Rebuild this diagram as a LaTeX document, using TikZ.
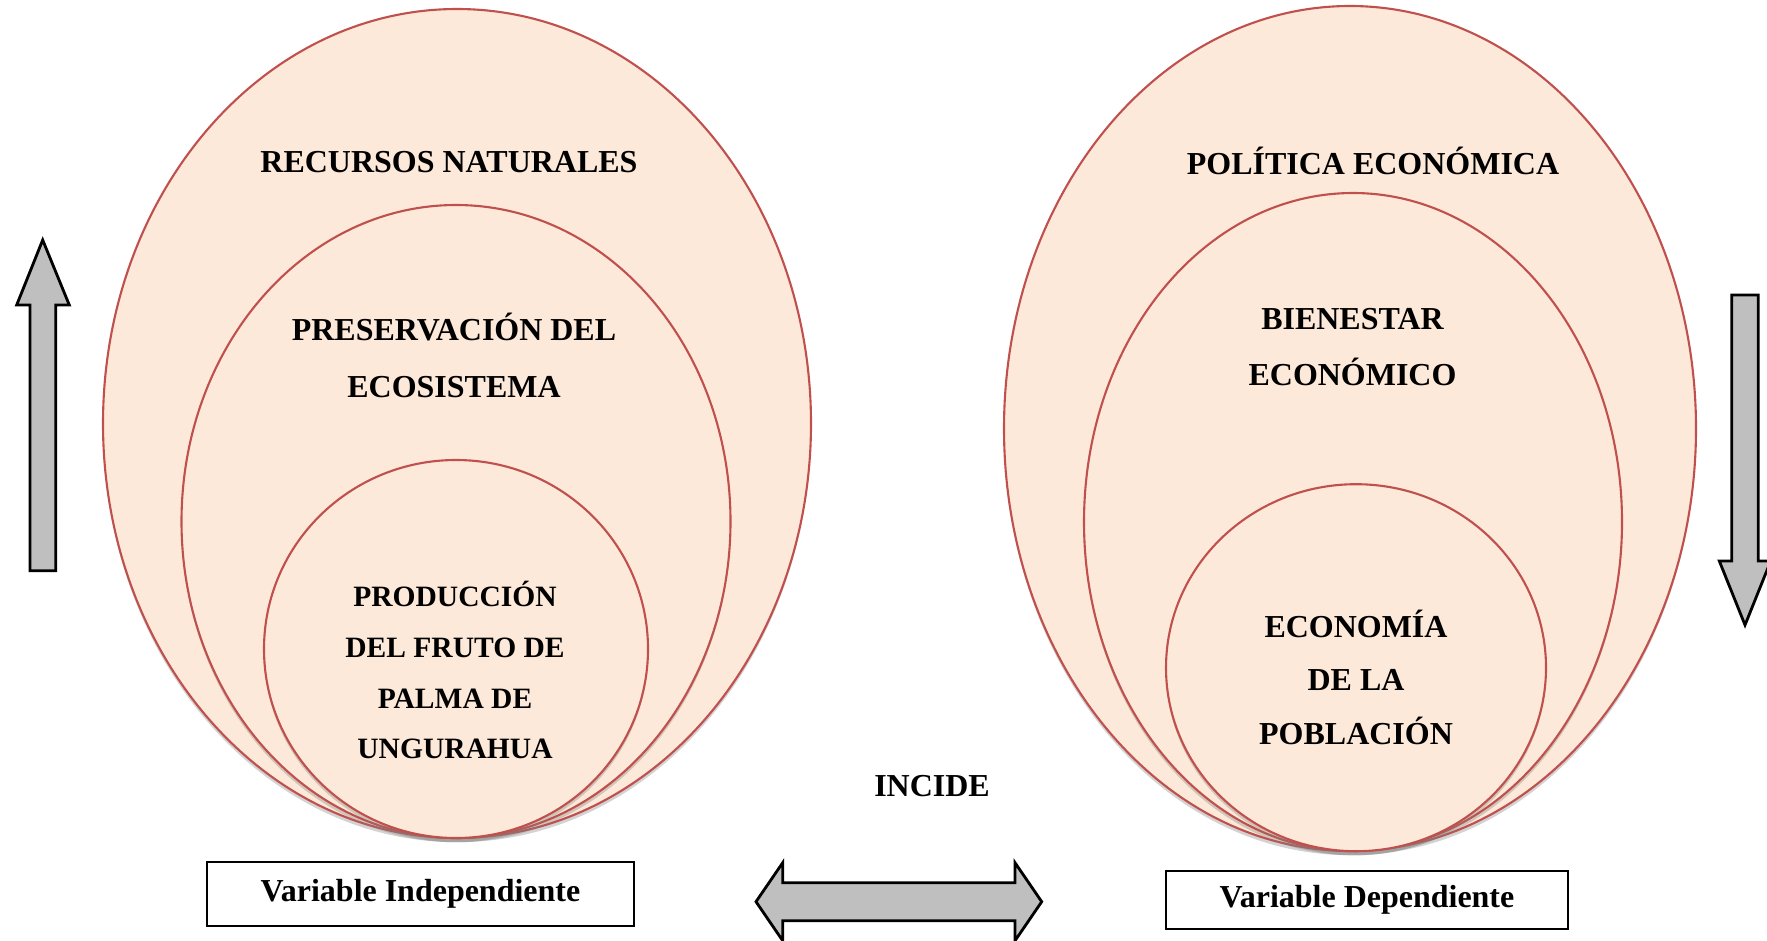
\documentclass[tikz,border=0pt]{standalone}
\usepackage{fontspec}
\setmainfont{Liberation Serif}
\usepackage{tikz}
\usetikzlibrary{shadows}
\definecolor{peach}{HTML}{FDE9D9}
\definecolor{rojo}{HTML}{C0504D}
\definecolor{gris}{HTML}{BFBFBF}
\def\largeur{17.67}
\def\hauteur{9.40}
\tikzset{
  bulle/.style={fill=peach, draw=rojo, line width=0.6pt,
    drop shadow={opacity=0.35, shadow xshift=0pt, shadow yshift=-1.2pt}},
  texte/.style={font=\fontsize{9.1}{15}\selectfont\bfseries, align=center, inner sep=0pt},
  cadre/.style={draw=black, line width=0.6pt, font=\fontsize{9.1}{11}\selectfont\bfseries, inner sep=0pt},
  fleche/.style={fill=gris, draw=black, line width=0.8pt, line join=miter}
}
\begin{document}
\begin{tikzpicture}[x=1cm, y=1cm]
\useasboundingbox (0,0) rectangle (\largeur,\hauteur);
%\draw[step=1cm, line width=0.1mm, black!30!white] (0,0) grid (\largeur,\hauteur);
    \coordinate (g1) at (4.57,5.165);
    \coordinate (g2) at (4.56,4.185);
    \coordinate (g3) at (4.56,2.91);
    \coordinate (d1) at (13.50,5.115);
    \coordinate (d2) at (13.53,4.18);
    \coordinate (d3) at (13.56,2.723);
    % variable independiente
    \path[bulle] (g1) ellipse (3.54 and 4.145);
    \path[bulle] (g2) ellipse (2.745 and 3.165);
    \path[bulle] (g3) ellipse (1.92 and 1.89);
    % variable dependiente
    \path[bulle] (d1) ellipse (3.46 and 4.225);
    \path[bulle] (d2) ellipse (2.69 and 3.29);
    \path[bulle] (d3) ellipse (1.90 and 1.835);
    \node[texte] (recursos) at (4.49,7.78) {RECURSOS NATURALES};
    \node[texte, font=\fontsize{9.1}{16.2}\selectfont\bfseries] (preserv) at (4.54,5.85) {PRESERVACIÓN DEL\\ECOSISTEMA};
    \node[texte, font=\fontsize{8.4}{14.5}\selectfont\bfseries] (produc) at (4.55,2.70) {PRODUCCIÓN\\DEL FRUTO DE\\PALMA DE\\UNGURAHUA};
    \node[texte] (politica) at (13.73,7.79) {POLÍTICA ECONÓMICA};
    \node[texte, font=\fontsize{9.1}{15.8}\selectfont\bfseries] (bienestar) at (13.525,5.93) {BIENESTAR\\ECONÓMICO};
    \node[texte, font=\fontsize{9.1}{15.3}\selectfont\bfseries] (economia) at (13.56,2.626) {ECONOMÍA\\DE LA\\POBLACIÓN};
    \node[texte] (incide) at (9.32,1.54) {INCIDE};
    \node[cadre, minimum width=4.27cm, minimum height=0.64cm] (vi) at (4.205,0.46) {Variable Independiente};
    \node[cadre, minimum width=4.02cm, minimum height=0.58cm] (vd) at (13.67,0.40) {Variable Dependiente};
    % fleches
    \draw[fleche] (0.427,7.00) -- (0.693,6.35) -- (0.557,6.35) -- (0.557,3.693)
        -- (0.30,3.693) -- (0.30,6.35) -- (0.167,6.35) -- cycle;
    \draw[fleche] (17.45,3.15) -- (17.707,3.79) -- (17.583,3.79) -- (17.583,6.45)
        -- (17.317,6.45) -- (17.317,3.79) -- (17.193,3.79) -- cycle;
    \draw[fleche] (7.56,0.383) -- (7.827,0.773) -- (7.827,0.573) -- (10.15,0.573)
        -- (10.15,0.773) -- (10.417,0.383) -- (10.15,-0.007) -- (10.15,0.193)
        -- (7.827,0.193) -- (7.827,-0.007) -- cycle;
\end{tikzpicture}
\end{document}
